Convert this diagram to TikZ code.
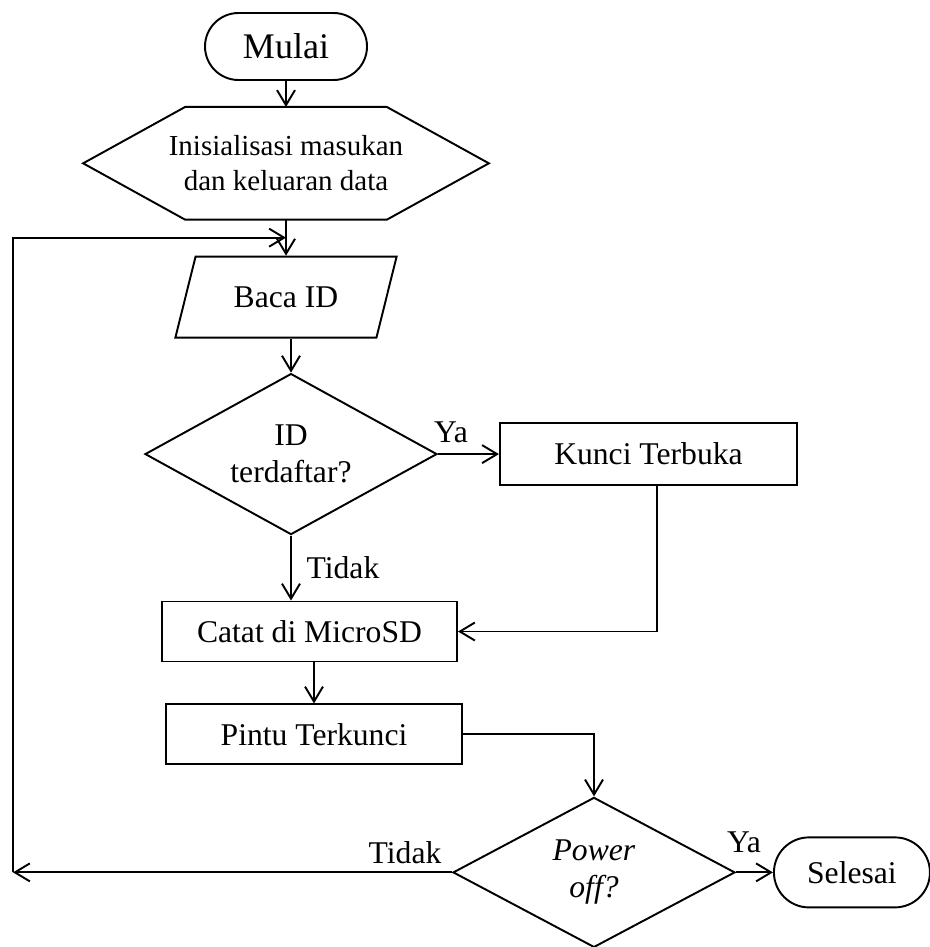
\documentclass[tikz,border=0pt]{standalone}
\usepackage{fontspec}
\setmainfont{Liberation Serif}
\usetikzlibrary{shapes.geometric, shapes.misc, arrows.meta, positioning, calc}

\begin{document}
\begin{tikzpicture}[
    >={Straight Barb[length=0.3cm, width=0.36cm]},
    font=\fontsize{18pt}{21pt}\selectfont,
    base/.style={draw, align=center, line width=1.1pt, inner sep=0pt},
    terminal/.style={base, shape=rounded rectangle, rounded rectangle arc length=180},
    hexa/.style={align=center, inner sep=0pt, minimum width=8.1cm, minimum height=2.24cm, font=\fontsize{16.5pt}{20pt}\selectfont},
    io/.style={base, trapezium, trapezium left angle=61, trapezium right angle=119, trapezium stretches=true, minimum width=4.44cm, minimum height=1.62cm},
    process/.style={base, rectangle, minimum width=5.9cm, minimum height=1.2cm},
    decision/.style={base, diamond},
    lbl/.style={inner sep=0pt},
    arrow/.style={->, line width=1.1pt},
    line/.style={line width=1.1pt}
  ]
    \useasboundingbox (0,0) rectangle (18.6,-18.94);
    \node[terminal, minimum width=3.24cm, minimum height=1.34cm, font=\fontsize{20.5pt}{24pt}\selectfont] (start) at (5.72,-0.93) {Mulai};
    \node[hexa, below=0.52cm of start] (init) {Inisialisasi masukan\\dan keluaran data};
    \draw[line] (init.west) -- ([xshift=2.04cm]init.north west) -- ([xshift=-2.04cm]init.north east)
      -- (init.east) -- ([xshift=-2.04cm]init.south east) -- ([xshift=2.04cm]init.south west) -- cycle;
    \node[io, below=0.72cm of init] (baca) {Baca ID};
    \node[decision, aspect=1.81, minimum width=5.84cm, minimum height=3.22cm, below=0.68cm of baca, xshift=0.1cm] (cek) {ID\\terdaftar?};
    \node[process, minimum width=5.94cm, minimum height=1.24cm, right=1.22cm of cek] (buka) {Kunci Terbuka};
    \node[process, below=1.30cm of cek, xshift=0.37cm] (catat) {Catat di MicroSD};
    \node[process, minimum width=5.92cm, below=0.82cm of catat, xshift=0.09cm] (kunci) {Pintu Terkunci};
    \node[decision, aspect=1.86, minimum width=5.64cm, minimum height=3.0cm, below=0.62cm of kunci, xshift=5.6cm] (power) {\textit{Power}\\\textit{off?}};
    \node[terminal, minimum width=3.12cm, minimum height=1.4cm, right=0.74cm of power] (selesai) {Selesai};
    % label cabang
    \node[lbl] (ya1) at ($(cek.east)+(0.26,0.44)$) {Ya};
    \node[lbl] (tidak1) at ($(cek.south)+(1.04,-0.64)$) {Tidak};
    \node[lbl] (tidak2) at ($(power.west)+(-0.94,0.40)$) {Tidak};
    \node[lbl] (ya2) at ($(power.east)+(0.16,0.6)$) {Ya};
    % panah
    \draw[arrow] (start) -- (init);
    \draw[arrow] (init) -- (baca);
    \draw[arrow] (cek.north |- baca.south) -- (cek.north);
    \draw[arrow] (cek) -- (buka);
    \draw[arrow] (cek.south) -- (cek.south |- catat.north);
    \draw[arrow] ([xshift=0.17cm]buka.south) |- (catat.east);
    \draw[arrow] (kunci.north |- catat.south) -- (kunci.north);
    \draw[arrow] (kunci.east) -| (power.north);
    \draw[arrow] (power) -- (selesai);
    \coordinate (kiri) at (0.26,0);
    \coordinate (loopT) at ($(init.south)!0.5!(baca.north)$);
    \coordinate (loopB) at (kiri |- power.west);
    \draw[arrow] (power.west) -- (loopB);
    \draw[arrow] (loopB) -- (kiri |- loopT) -- (loopT);
  \end{tikzpicture}
\end{document}
